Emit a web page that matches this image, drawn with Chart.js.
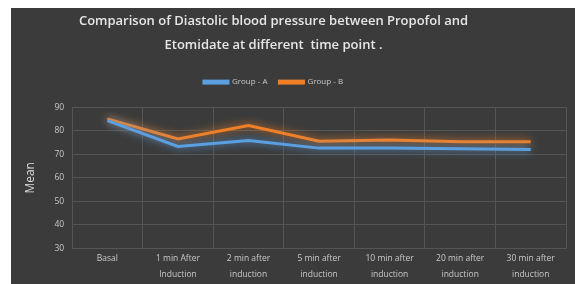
<!DOCTYPE html>
<html>
<head>
<meta charset="utf-8">
<script src="https://cdn.jsdelivr.net/npm/chart.js@4.4.1/dist/chart.umd.min.js"></script>
<style>
  html, body { margin: 0; padding: 0; background: #fff; }
  #wrap { position: absolute; left: 11px; top: 8px; width: 564px; height: 276px; }
</style>
</head>
<body>
<div id="wrap"><canvas id="chart"></canvas></div>
<script>
// values
var categories = ['Basal', ['1 min After', 'Induction'], ['2 min after', 'induction'],
  ['5 min after', 'induction'], ['10 min after', 'induction'],
  ['20 min after', 'induction'], ['30 min after', 'induction']];
var groupA = [84.3, 73.3, 75.8, 72.6, 72.6, 72.3, 72.0];
var groupB = [85.0, 76.5, 82.2, 75.5, 76.0, 75.3, 75.3];
var yTicks = [30, 40, 50, 60, 70, 80, 90];

var bgPlugin = {
  id: 'bg',
  beforeUpdate: function(chart) {
    // a bit more room under the legend
    var lg = chart.legend;
    if (lg && !lg._extra) {
      var fit = lg.fit;
      lg.fit = function() { fit.call(this); this.height += 11; };
      lg._extra = true;
    }
  },
  beforeDraw: function(chart) {
    var ctx = chart.ctx;
    ctx.save();
    ctx.fillStyle = '#3b3b3b';
    ctx.fillRect(0, 0, chart.width, chart.height);
    ctx.restore();
  },
  // title and legend sit a little left of centre in the original
  afterLayout: function(chart) {
    if (chart.titleBlock) chart.titleBlock.right -= 42;
    if (chart.legend) chart.legend.right -= 42;
  },
  beforeDatasetDraw: function(chart, args) {
    var ctx = chart.ctx;
    ctx.save();
    ctx.shadowColor = args.meta.dataset.options.borderColor;
    ctx.shadowBlur = 9;
  },
  afterDatasetDraw: function(chart) {
    chart.ctx.restore();
  }
};

new Chart(document.getElementById('chart'), {
  type: 'line',
  data: {
    labels: categories,
    datasets: [{
      label: 'Group - A',
      data: groupA,
      borderColor: '#5b9fe0',
      backgroundColor: '#5b9fe0',
      borderWidth: 3,
      pointRadius: 0,
      tension: 0
    }, {
      label: 'Group - B',
      data: groupB,
      borderColor: '#f08028',
      backgroundColor: '#f08028',
      borderWidth: 3,
      pointRadius: 0,
      tension: 0
    }]
  },
  options: {
    responsive: true,
    maintainAspectRatio: false,
    animation: false,
    layout: { padding: { left: 12, right: 9, top: 0, bottom: 0 } },
    plugins: {
      title: {
        display: true,
        text: ['Comparison of Diastolic blood pressure between Propofol and', 'Etomidate at different  time point .'],
        color: '#e6e6e6',
        font: { family: 'Open Sans', size: 13, weight: '600', lineHeight: 1.85 },
        padding: { top: 1, bottom: 9 }
      },
      legend: {
        display: true,
        labels: {
          color: '#c8c8c8',
          font: { family: 'Open Sans', size: 8 },
          boxWidth: 24,
          boxHeight: 2,
          padding: 12
        }
      },
      tooltip: { enabled: false }
    },
    scales: {
      x: {
        offset: true,
        grid: { offset: true, color: '#555555', drawTicks: false },
        border: { display: false },
        ticks: {
          color: '#c8c8c8',
          font: { family: 'Open Sans', size: 8.5, lineHeight: 1.85 },
          maxRotation: 0,
          autoSkip: false,
          padding: 2
        }
      },
      y: {
        min: 30,
        max: 90,
        afterBuildTicks: function(axis) {
          axis.ticks = yTicks.map(function(v) { return { value: v }; });
        },
        grid: { color: '#555555', drawTicks: false },
        border: { display: false },
        ticks: {
          color: '#c8c8c8',
          font: { family: 'Open Sans', size: 8.5 },
          padding: 8
        },
        title: {
          display: true,
          text: 'Mean',
          color: '#dcdcdc',
          font: { family: 'Open Sans', size: 12 },
          padding: { top: 0, bottom: 9 }
        }
      }
    }
  },
  plugins: [bgPlugin]
});
</script>
</body>
</html>
